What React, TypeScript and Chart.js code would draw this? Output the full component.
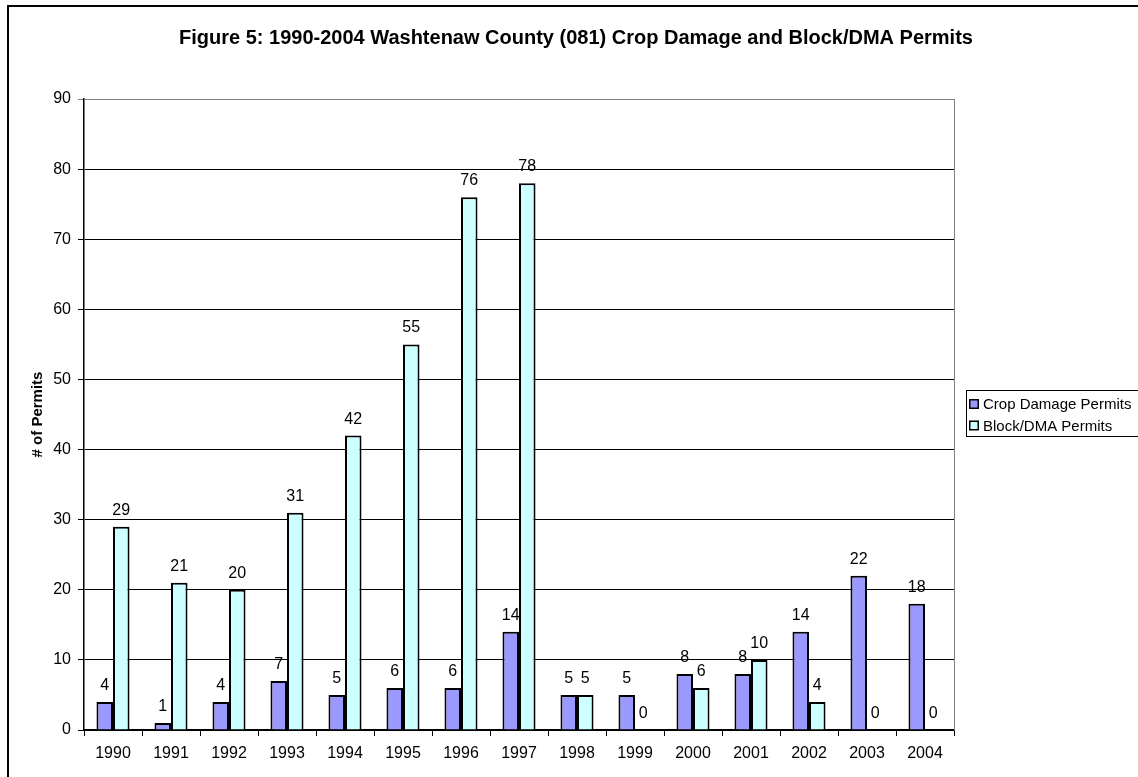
import React, { useEffect, useRef } from "react";
import { Chart, registerables } from "chart.js";

Chart.register(...registerables);

const years = ["1990", "1991", "1992", "1993", "1994", "1995", "1996", "1997", "1998", "1999", "2000", "2001", "2002", "2003", "2004"];
const cropDamage = [4, 1, 4, 7, 5, 6, 6, 14, 5, 5, 8, 8, 14, 22, 18];
const blockDma = [29, 21, 20, 31, 42, 55, 76, 78, 5, 0, 6, 10, 4, 0, 0];
const seriesNames = ["Crop Damage Permits", "Block/DMA Permits"];
const seriesColors = ["#9999FF", "#CCFFFF"];
const titleText = "Figure 5: 1990-2004 Washtenaw County (081) Crop Damage and Block/DMA Permits";
const yTitle = "# of Permits";

const FONT = "'Liberation Sans', Arial, Helvetica, sans-serif";

// Frame, title, axis title, value labels and the boxed legend
const decorations = {
  id: "decorations",
  beforeDraw(chart: any) {
    const ctx = chart.ctx;
    ctx.save();
    ctx.fillStyle = "#ffffff";
    ctx.fillRect(0, 0, chart.width, chart.height);
    ctx.restore();
  },
  afterDatasetsDraw(chart: any) {
    const ctx = chart.ctx;
    const area = chart.chartArea;
    ctx.save();
    // plot area border on the right
    ctx.strokeStyle = "#808080";
    ctx.lineWidth = 1;
    ctx.beginPath();
    ctx.moveTo(area.right + 0.5, area.top);
    ctx.lineTo(area.right + 0.5, area.bottom);
    ctx.stroke();

    // value labels above bars
    ctx.fillStyle = "#000";
    ctx.font = `16px ${FONT}`;
    ctx.textAlign = "center";
    ctx.textBaseline = "alphabetic";
    chart.data.datasets.forEach((ds: any, i: number) => {
      const meta = chart.getDatasetMeta(i);
      meta.data.forEach((bar: any, j: number) => {
        ctx.fillText(String(ds.data[j]), bar.x, bar.y - 12);
      });
    });
    ctx.restore();
  },
  afterDraw(chart: any) {
    const ctx = chart.ctx;
    const area = chart.chartArea;
    ctx.save();
    // outer frame
    ctx.strokeStyle = "#000";
    ctx.lineWidth = 2;
    ctx.beginPath();
    ctx.moveTo(8, chart.height + 5);
    ctx.lineTo(8, 6);
    ctx.lineTo(chart.width + 5, 6);
    ctx.stroke();

    // title
    ctx.fillStyle = "#000";
    ctx.font = `bold 20px ${FONT}`;
    ctx.textAlign = "center";
    ctx.textBaseline = "alphabetic";
    ctx.fillText(titleText, 576, 44);

    // y axis title
    ctx.save();
    ctx.translate(38, (area.top + area.bottom) / 2);
    ctx.rotate(-Math.PI / 2);
    ctx.font = `bold 15px ${FONT}`;
    ctx.textBaseline = "middle";
    ctx.fillText(yTitle, 0, 0);
    ctx.restore();

    // legend
    const lx = 966, ly = 390, lw = 180, lh = 47;
    ctx.fillStyle = "#fff";
    ctx.fillRect(lx, ly, lw, lh);
    ctx.strokeStyle = "#000";
    ctx.lineWidth = 1;
    ctx.strokeRect(lx + 0.5, ly + 0.5, lw - 1, lh - 1);
    ctx.font = `15px ${FONT}`;
    ctx.textAlign = "left";
    ctx.textBaseline = "middle";
    seriesNames.forEach((name, i) => {
      const cy = 404 + i * 21.5;
      ctx.fillStyle = seriesColors[i];
      ctx.fillRect(969, cy - 5, 10, 10);
      ctx.strokeStyle = "#000";
      ctx.lineWidth = 1.5;
      ctx.strokeRect(969.75, cy - 4.25, 8.5, 8.5);
      ctx.fillStyle = "#000";
      ctx.fillText(name, 983, cy + 1);
    });
    ctx.restore();
  },
};

export default function App() {
  const canvasRef = useRef<HTMLCanvasElement | null>(null);

  useEffect(() => {
    if (!canvasRef.current) return;
    const chart = new Chart(canvasRef.current, {
      type: "bar",
      data: {
        labels: years,
        datasets: [
          {
            label: seriesNames[0],
            data: cropDamage,
            backgroundColor: seriesColors[0],
            borderColor: "#000",
            borderWidth: 2,
          },
          {
            label: seriesNames[1],
            data: blockDma,
            backgroundColor: seriesColors[1],
            borderColor: "#000",
            borderWidth: 2,
          },
        ],
      },
      options: {
        responsive: false,
        animation: false,
        devicePixelRatio: 1,
        layout: { padding: { left: 0, top: 99, right: 184, bottom: 0 } },
        datasets: {
          bar: { categoryPercentage: 0.57, barPercentage: 1 },
        },
        plugins: {
          legend: { display: false },
          title: { display: false },
          tooltip: { enabled: false },
        },
        scales: {
          x: {
            grid: {
              offset: true,
              drawOnChartArea: false,
              drawTicks: true,
              tickLength: 6,
              color: "#000",
              lineWidth: 1,
            },
            border: { color: "#000", width: 1.5 },
            ticks: {
              color: "#000",
              font: { family: FONT, size: 16 },
              padding: 8,
              maxRotation: 0,
              autoSkip: false,
            },
            afterFit(scale: any) {
              scale.height = 47;
            },
          },
          y: {
            min: 0,
            max: 90,
            grid: {
              drawTicks: true,
              tickLength: 6,
              color: (c: any) => (c.tick && c.tick.value === 90 ? "#808080" : "#000"),
              lineWidth: 1,
            },
            border: { color: "#000", width: 1.5 },
            ticks: {
              stepSize: 10,
              color: "#000",
              font: { family: FONT, size: 16 },
              padding: 7,
            },
            afterFit(scale: any) {
              scale.width = 84;
            },
          },
        },
      },
      plugins: [decorations],
    });
    return () => chart.destroy();
  }, []);

  return (
    <div style={{ position: "absolute", left: 0, top: 0, width: 1138, height: 777, background: "#fff" }}>
      <canvas ref={canvasRef} width={1138} height={777} style={{ display: "block", width: 1138, height: 777 }} />
    </div>
  );
}
